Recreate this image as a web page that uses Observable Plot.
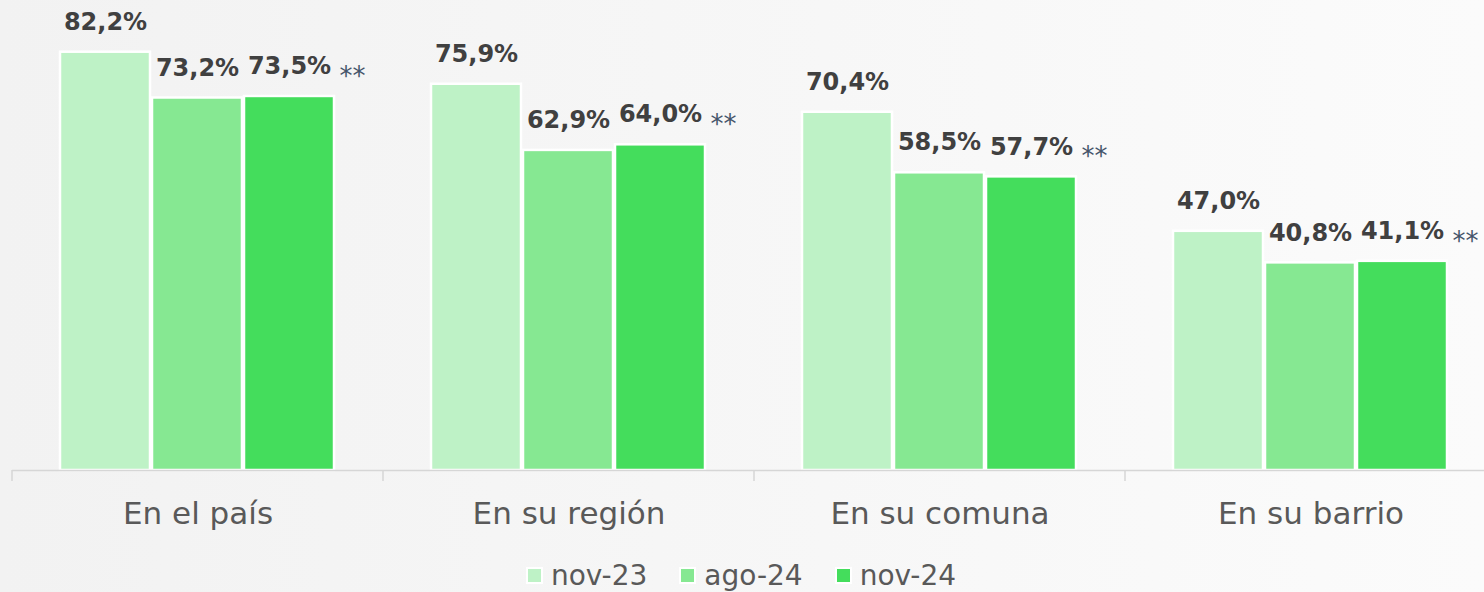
<!DOCTYPE html>
<html>
<head>
<meta charset="utf-8">
<script src="https://cdn.jsdelivr.net/npm/d3@7"></script>
<script src="https://cdn.jsdelivr.net/npm/@observablehq/plot@0.6"></script>
<style>
  html, body { margin: 0; padding: 0; width: 1484px; height: 592px; overflow: hidden;
    background: linear-gradient(to right, #f2f2f2, #fbfbfb); font-family: "DejaVu Sans", sans-serif; }
  #chart { width: 1500px; }
  #legend { width: 1484px; height: 47px; box-sizing: border-box; padding-top: 14px;
    display: flex; justify-content: center; align-items: center; font-size: 28px; color: #595959; line-height: 36px; }
  .item { display: flex; align-items: center; margin: 0 17px; }
  .sw { width: 13px; height: 13px; margin-right: 10px; outline: 2px solid #fff; }
</style>
</head>
<body>
<div id="chart"></div>
<div id="legend"></div>
<script>
const categories = ["En el país", "En su región", "En su comuna", "En su barrio"];
const series = ["nov-23", "ago-24", "nov-24"];
const nov23 = [82.2, 75.9, 70.4, 47.0];
const ago24 = [73.2, 62.9, 58.5, 40.8];
const nov24 = [73.5, 64.0, 57.7, 41.1];
const markers = ["**", "**", "**", "**"];
const colors = ["#BEF2C6", "#86E892", "#44DD5C"];

const values = [nov23, ago24, nov24];
const rows = [];
categories.forEach((c, i) => {
  series.forEach((s, j) => {
    rows.push({category: c, series: s, value: values[j][i], marker: s === "nov-24" ? markers[i] : ""});
  });
});
const fmt = v => v.toFixed(1).replace(".", ",") + "%";

const chart = Plot.plot({
  width: 1500, height: 545,
  marginLeft: 12, marginRight: 4, marginTop: 12, marginBottom: 75,
  style: {background: "transparent", fontFamily: "DejaVu Sans, sans-serif", overflow: "visible"},
  fx: {domain: categories, padding: 0, label: null},
  x: {domain: series, paddingInner: 0.02, paddingOuter: 0.515, axis: null},
  y: {domain: [0, 90], axis: null},
  color: {domain: series, range: colors},
  marks: [
    Plot.barY(rows, {fx: "category", x: "series", y: "value", fill: "series", stroke: "white", strokeWidth: 2.5}),
    Plot.ruleY([0], {stroke: "#d6d6d6", strokeWidth: 1.5}),
    Plot.text(rows, {fx: "category", x: "series", y: "value", text: d => fmt(d.value), dy: -30,
      fontSize: 24, fontWeight: "bold", fill: "#404040"}),
    Plot.text(rows.filter(d => d.marker), {fx: "category", x: "series", y: "value", text: "marker",
      textAnchor: "start", dx: 50, dy: -20, fontSize: 26, fill: "#44546A"}),
    Plot.axisFx({anchor: "bottom", tickSize: 0, tickPadding: 31, fontSize: 31, label: null, color: "#595959"})
  ]
});

// boundary ticks on the category axis, derived from the fx scale
const fx = chart.scale("fx");
const y = chart.scale("y");
const y0 = y.apply(0);
const bounds = categories.map(c => fx.apply(c));
bounds.push(fx.apply(categories[categories.length - 1]) + fx.bandwidth);
d3.select(chart).append("g")
  .selectAll("line").data(bounds).join("line")
  .attr("x1", d => d).attr("x2", d => d)
  .attr("y1", y0).attr("y2", y0 + 11)
  .attr("stroke", "#d6d6d6").attr("stroke-width", 1.5);

document.getElementById("chart").appendChild(chart);

const legend = d3.select("#legend");
series.forEach((s, i) => {
  const it = legend.append("div").attr("class", "item");
  it.append("div").attr("class", "sw").style("background", colors[i]);
  it.append("span").text(s);
});
</script>
</body>
</html>
